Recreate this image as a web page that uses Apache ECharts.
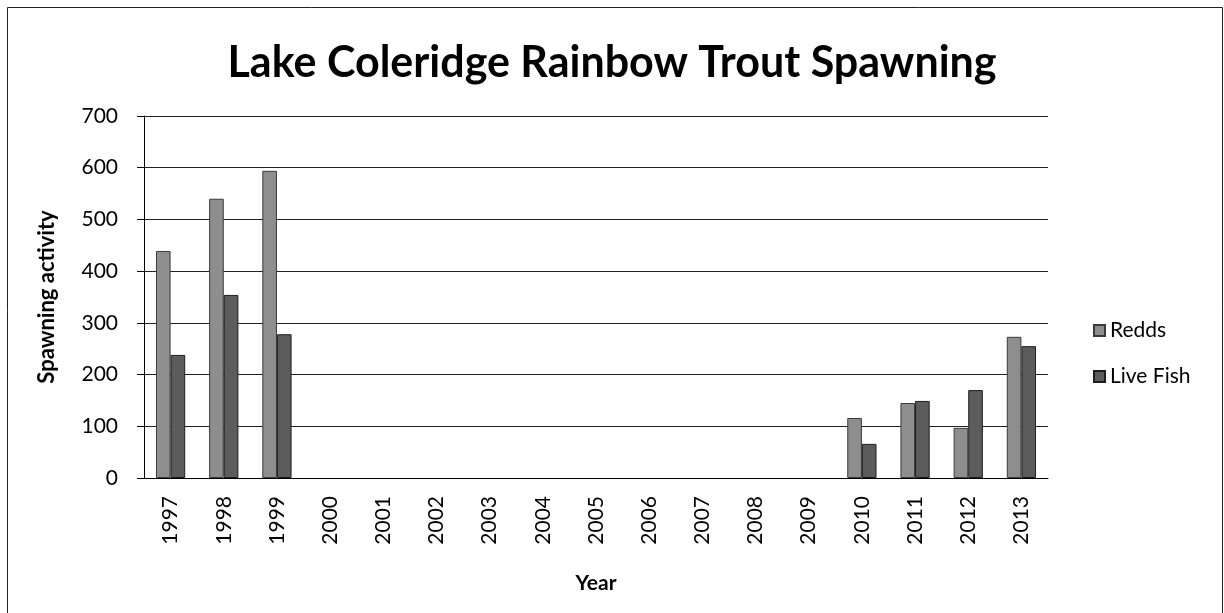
<!DOCTYPE html>
<html>
<head>
<meta charset="utf-8">
<script src="https://cdn.jsdelivr.net/npm/echarts@6/dist/echarts.min.js"></script>
<style>
  html, body { margin: 0; padding: 0; background: #fff; }
  #chart { width: 1224px; height: 613px; }
</style>
</head>
<body>
<div id="chart"></div>
<script>
// data
const years = ['1997', '1998', '1999', '2000', '2001', '2002', '2003', '2004', '2005',
  '2006', '2007', '2008', '2009', '2010', '2011', '2012', '2013'];
const redds = [439, 540, 594, null, null, null, null, null, null, null, null, null, null, 116, 145, 97, 273];
const liveFish = [238, 354, 278, null, null, null, null, null, null, null, null, null, null, 66, 149, 170, 255];

const font = 'Lato, "Open Sans", sans-serif';

const chart = echarts.init(document.getElementById('chart'));
chart.setOption({
  backgroundColor: '#fff',
  animation: false,
  graphic: [{
    type: 'rect',
    shape: { x: 7.5, y: 7.5, width: 1215, height: 620 },
    style: { fill: 'none', stroke: '#222', lineWidth: 1 },
    silent: true
  }],
  title: {
    text: 'Lake Coleridge Rainbow Trout Spawning',
    left: 'center',
    top: 37,
    textStyle: { fontFamily: font, fontWeight: 'bold', fontSize: 43, color: '#000' }
  },
  legend: {
    orient: 'vertical',
    left: 1088,
    top: 315,
    itemWidth: 11,
    itemHeight: 11,
    itemGap: 25,
    icon: 'rect',
    textStyle: { fontFamily: font, fontSize: 21, color: '#000' },
    data: ['Redds', 'Live Fish']
  },
  grid: { left: 144, right: 176, top: 116, bottom: 135 },
  xAxis: {
    type: 'category',
    data: years,
    name: 'Year',
    nameLocation: 'middle',
    nameGap: 95,
    nameTextStyle: { fontFamily: font, fontWeight: 'bold', fontSize: 21, color: '#000' },
    axisLine: { lineStyle: { color: '#000', width: 1 } },
    axisTick: { show: false },
    axisLabel: { rotate: 90, fontFamily: font, fontSize: 21, color: '#000', margin: 18 }
  },
  yAxis: {
    type: 'value',
    min: 0,
    max: 700,
    interval: 100,
    name: 'Spawning activity',
    nameLocation: 'middle',
    nameGap: 86,
    nameTextStyle: { fontFamily: font, fontWeight: 'bold', fontSize: 22, color: '#000' },
    axisLine: { show: true, lineStyle: { color: '#000', width: 1 } },
    axisTick: { show: true, length: 7, lineStyle: { color: '#000' } },
    axisLabel: { fontFamily: font, fontSize: 21, color: '#000', margin: 26 },
    splitLine: { lineStyle: { color: '#222', width: 1 } }
  },
  series: [
    {
      name: 'Redds',
      type: 'bar',
      data: redds,
      barGap: '0%',
      barCategoryGap: '45%',
      itemStyle: { color: '#8e8e8e', borderColor: '#3a3a3a', borderWidth: 1 }
    },
    {
      name: 'Live Fish',
      type: 'bar',
      data: liveFish,
      itemStyle: { color: '#5c5c5c', borderColor: '#1e1e1e', borderWidth: 1 }
    }
  ]
});
</script>
</body>
</html>
